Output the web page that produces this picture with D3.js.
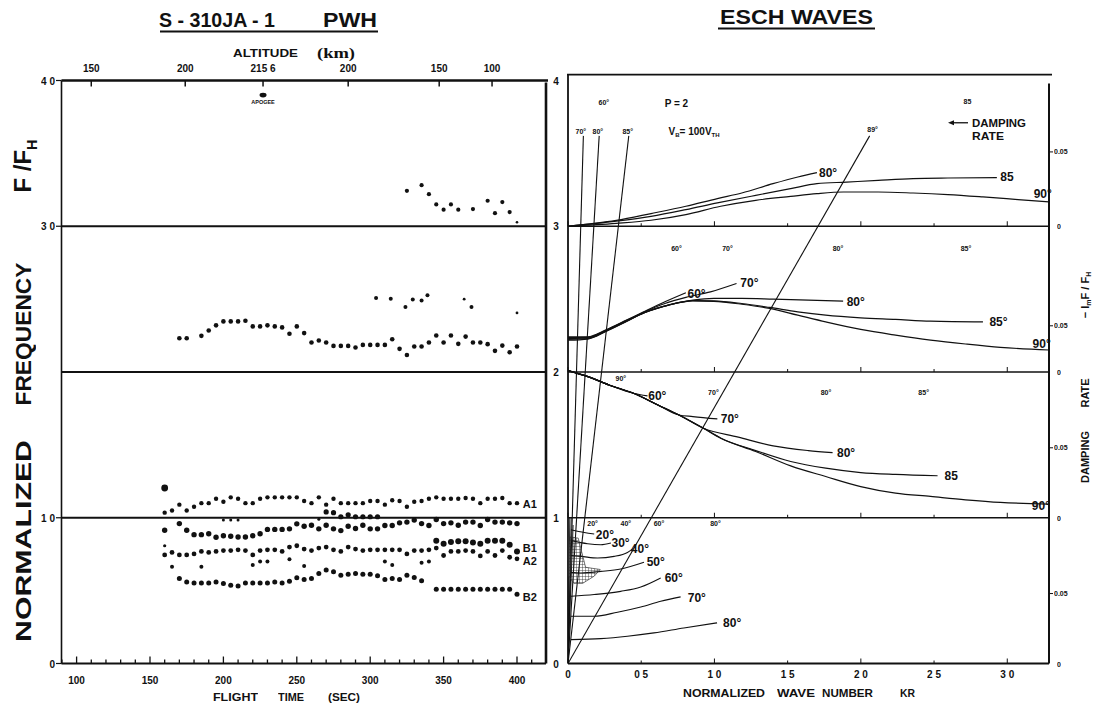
<!DOCTYPE html>
<html><head><meta charset="utf-8">
<script src="https://cdn.jsdelivr.net/npm/d3@7/dist/d3.min.js"></script>
<style>
body{margin:0;background:#fff}
svg{display:block}
text{font-family:"Liberation Sans",Arial,sans-serif;fill:#111;font-weight:bold;opacity:0.999}
</style></head>
<body><svg id="c" width="1094" height="705"></svg>
<script>
// ---------------- DATA ----------------
// left panel: flight time (s) vs normalized frequency F/FH
const timeTicks = [100,150,200,250,300,350,400];
const altTickTimes = [110,174,227,285,347,383];
const altTickLabels = ["150","200","215 6","200","150","100"];
const leftYTicks = [4,3,1,0];
const leftYLabels = ["4 0","3 0","1 0","0"];
const midYTicks = [4,3,2,1,0];
const apogee = [[227,3.9]];

const topDots = [[325,3.243],[335,3.282],[340,3.22],[345,3.15],[350,3.114],[355,3.15],[360,3.114],[370,3.118],[380,3.175],[385,3.09],[390,3.166],[395,3.097]];
const topSmall = [[400,3.027]];

const midDots = [[170,2.232],[175,2.232],[185,2.248],[190,2.285],[195,2.32],[200,2.347],[205,2.347],[210,2.347],[215,2.352],[220,2.313],[225,2.313],[230,2.32],[235,2.313],[240,2.306],[245,2.262],[250,2.313],[255,2.267],[260,2.202],[265,2.216],[270,2.202],[275,2.179],[280,2.179],[285,2.179],[290,2.168],[295,2.186],[300,2.186],[305,2.186],[310,2.186],[315,2.225],[320,2.159],[325,2.117],[330,2.175],[335,2.175],[340,2.202],[345,2.25],[350,2.202],[355,2.25],[360,2.193],[365,2.243],[370,2.202],[375,2.202],[380,2.191],[385,2.145],[390,2.181],[395,2.136],[400,2.175]];
const midUpper = [[304,2.508],[314,2.503],[324,2.446],[329,2.497],[335,2.49],[339,2.526],[369,2.446]];
const midSmall = [[364,2.5],[400,2.405]];

const seriesA1 = [[160,1.035],[165,1.05],[170,1.09],[175,1.05],[180,1.075],[185,1.10],[190,1.10],[195,1.13],[200,1.11],[205,1.14],[210,1.13],[215,1.10],[220,1.10],[225,1.13],[230,1.14],[235,1.14],[240,1.14],[245,1.14],[250,1.14],[255,1.115],[260,1.10],[265,1.14],[270,1.09],[275,1.13],[280,1.10],[285,1.10],[290,1.10],[295,1.10],[300,1.115],[305,1.115],[310,1.09],[315,1.12],[320,1.115],[325,1.075],[330,1.11],[335,1.115],[340,1.13],[345,1.14],[350,1.13],[355,1.13],[360,1.13],[365,1.135],[370,1.13],[375,1.10],[380,1.13],[385,1.13],[390,1.135],[395,1.10],[400,1.10]];
const firstBig = [[160,1.204]];
const nearOne = [[270,1.04],[275,1.035],[280,1.007],[285,1.02],[290,1.007],[295,1.007],[300,1.007],[305,1.007]];
const nearOneSmall = [[200,0.984],[205,0.984],[210,0.984],[265,0.99]];
const seriesC = [[160,0.914],[170,0.96],[175,0.914],[180,0.884],[185,0.884],[190,0.89],[195,0.866],[200,0.877],[205,0.873],[210,0.868],[215,0.868],[220,0.877],[225,0.89],[230,0.92],[235,0.92],[240,0.92],[245,0.924],[250,0.958],[255,0.942],[260,0.949],[265,0.924],[270,0.949],[275,0.924],[280,0.912],[285,0.942],[290,0.926],[295,0.949],[300,0.924],[305,0.924],[310,0.947],[315,0.947],[320,0.965],[325,0.97],[330,0.984],[335,0.96],[340,0.947],[345,0.988],[350,0.96],[355,0.965],[360,0.949],[365,0.97],[370,0.97],[375,0.947],[380,0.988],[385,0.97],[390,0.97],[395,0.965],[400,0.96]];
const seriesB1 = [[345,0.843],[350,0.822],[355,0.833],[360,0.838],[365,0.838],[370,0.831],[375,0.822],[380,0.843],[385,0.843],[390,0.843],[395,0.815],[400,0.769]];
const seriesA2 = [[160,0.745],[165,0.762],[170,0.745],[175,0.745],[180,0.752],[185,0.769],[190,0.762],[195,0.769],[200,0.775],[205,0.775],[210,0.78],[215,0.775],[220,0.745],[225,0.775],[230,0.78],[235,0.78],[240,0.769],[245,0.799],[250,0.808],[255,0.785],[260,0.775],[265,0.792],[270,0.799],[275,0.78],[280,0.769],[285,0.799],[290,0.785],[295,0.775],[300,0.78],[305,0.78],[310,0.78],[315,0.78],[320,0.78],[325,0.752],[330,0.775],[335,0.775],[340,0.78],[345,0.792],[350,0.741],[355,0.769],[360,0.769],[365,0.775],[370,0.769],[375,0.738],[380,0.769],[385,0.741],[390,0.775],[395,0.729],[400,0.718]];
const a2Extra = [[160,0.808]];
const a2Scatter = [[165,0.664],[185,0.664],[220,0.676],[225,0.699],[230,0.699],[245,0.715],[255,0.669],[310,0.699],[315,0.676],[335,0.692],[340,0.699]];
const seriesB2 = [[170,0.583],[175,0.56],[180,0.553],[185,0.553],[190,0.553],[195,0.56],[200,0.549],[205,0.537],[210,0.532],[215,0.553],[220,0.553],[225,0.553],[230,0.553],[235,0.56],[240,0.553],[245,0.565],[250,0.588],[255,0.576],[260,0.583],[265,0.618],[270,0.641],[275,0.63],[280,0.606],[285,0.613],[290,0.618],[295,0.613],[300,0.613],[305,0.602],[310,0.576],[315,0.583],[320,0.576],[325,0.606],[330,0.59],[335,0.567],[345,0.509],[350,0.509],[355,0.509],[360,0.509],[365,0.509],[370,0.509],[375,0.509],[380,0.509],[385,0.509],[390,0.509],[395,0.509],[400,0.475]];
const seriesLabels = [[404,1.094,"A1"],[404,0.79,"B1"],[404,0.705,"A2"],[404,0.457,"B2"]];

// right panel: normalized wave number KR vs F/FH (and damping rate)
const kTicks = [0,0.5,1,1.5,2,2.5,3];
const kLabels = ["0","0 5","1 0","1 5","2 0","2 5","3 0"];
const rateLabelLevels = [3.51,2.317,1.48,0.48];
const rateZeroLevels = [3,2,1,0];

const p1_80 = [[0,3.0],[0.33,3.04],[0.567,3.087],[0.805,3.137],[1.02,3.19],[1.187,3.228],[1.40,3.292],[1.57,3.338],[1.70,3.368]];
const p1_85 = [[0,3.0],[0.33,3.035],[0.567,3.068],[0.805,3.114],[1.02,3.16],[1.282,3.212],[1.521,3.258],[1.70,3.292],[1.903,3.303],[2.118,3.315],[2.357,3.327],[2.595,3.331],[2.929,3.333]];
const p1_90 = [[0,3.0],[0.33,3.02],[0.567,3.041],[0.805,3.08],[1.043,3.137],[1.282,3.178],[1.521,3.205],[1.70,3.224],[1.88,3.235],[2.118,3.235],[2.357,3.228],[2.595,3.217],[2.834,3.201],[3.073,3.183],[3.285,3.167]];

const p2_60 = [[0,2.242],[0.136,2.242],[0.256,2.288],[0.40,2.356],[0.517,2.413],[0.662,2.482],[0.805,2.544]];
const p2_70 = [[0,2.236],[0.136,2.238],[0.256,2.285],[0.40,2.354],[0.517,2.41],[0.662,2.47],[0.805,2.512],[0.973,2.55],[1.151,2.607]];
const p2_80 = [[0,2.23],[0.136,2.234],[0.256,2.282],[0.40,2.35],[0.517,2.405],[0.686,2.459],[0.853,2.493],[0.996,2.505],[1.187,2.505],[1.401,2.50],[1.641,2.493],[1.879,2.486]];
const p2_85 = [[0,2.224],[0.136,2.23],[0.256,2.279],[0.40,2.348],[0.517,2.405],[0.686,2.459],[0.853,2.49],[0.996,2.488],[1.187,2.47],[1.378,2.443],[1.569,2.413],[1.76,2.39],[1.999,2.372],[2.237,2.361],[2.476,2.349],[2.834,2.344]];
const p2_90 = [[0,2.218],[0.136,2.226],[0.256,2.276],[0.40,2.346],[0.517,2.405],[0.686,2.459],[0.853,2.488],[0.996,2.485],[1.187,2.465],[1.378,2.436],[1.569,2.39],[1.76,2.344],[1.999,2.292],[2.237,2.253],[2.476,2.219],[2.715,2.192],[2.953,2.169],[3.285,2.151]];

const p3_60 = [[0,2.01],[0.136,1.968],[0.28,1.911],[0.447,1.854],[0.543,1.836]];
const p3_70 = [[0,2.01],[0.136,1.968],[0.28,1.911],[0.447,1.854],[0.614,1.774],[0.758,1.705],[0.853,1.694],[1.02,1.678]];
const p3_80 = [[0,2.01],[0.136,1.968],[0.28,1.911],[0.447,1.854],[0.614,1.774],[0.758,1.705],[0.925,1.614],[1.163,1.553],[1.401,1.493],[1.641,1.461],[1.807,1.447]];
const p3_85 = [[0,2.01],[0.136,1.968],[0.28,1.911],[0.447,1.854],[0.614,1.774],[0.758,1.705],[0.925,1.614],[1.044,1.546],[1.282,1.461],[1.521,1.386],[1.76,1.34],[1.999,1.31],[2.237,1.297],[2.524,1.288]];
const p3_90 = [[0,2.01],[0.136,1.968],[0.28,1.911],[0.447,1.854],[0.614,1.774],[0.758,1.705],[0.925,1.614],[1.044,1.546],[1.282,1.455],[1.521,1.356],[1.76,1.283],[1.999,1.214],[2.237,1.169],[2.476,1.146],[2.715,1.123],[2.953,1.105],[3.285,1.094]];

const p4_20 = [[0.02,0.918],[0.111,0.899],[0.179,0.888]];
const p4_30 = [[0.02,0.845],[0.134,0.822],[0.224,0.815],[0.293,0.827]];
const p4_40 = [[0.02,0.74],[0.088,0.735],[0.202,0.724],[0.315,0.735],[0.406,0.762],[0.44,0.785]];
const p4_50 = [[0.02,0.625],[0.088,0.621],[0.224,0.632],[0.36,0.648],[0.519,0.694]];
const p4_60 = [[0.02,0.461],[0.179,0.473],[0.36,0.495],[0.497,0.525],[0.633,0.587]];
const p4_70 = [[0.02,0.324],[0.179,0.324],[0.338,0.352],[0.497,0.388],[0.633,0.427],[0.769,0.457]];
const p4_80 = [[0.02,0.164],[0.224,0.171],[0.406,0.187],[0.587,0.21],[0.791,0.244],[1.018,0.279]];

const disp70 = [[0,0],[0.105,3.62]];
const disp80 = [[0,0],[0.213,3.62]];
const disp85 = [[0,0],[0.415,3.62]];
const disp89 = [[0,0],[2.06,3.62]];
const dispLow = [[[0,0],[0.012,1.0]],[[0,0],[0.022,1.0]],[[0,0],[0.035,0.95]]];
const hatchShape = [[0.005,0.87],[0.07,0.86],[0.1,0.74],[0.12,0.66],[0.22,0.645],[0.18,0.6],[0.1,0.55],[0.04,0.55],[0.005,0.6]];

const boldLabels = [
 [1.714,3.365,"80°"],[2.952,3.338,"85"],[3.18,3.221,"90°"],
 [0.816,2.535,"60°"],[1.177,2.61,"70°"],[1.903,2.48,"80°"],[2.878,2.343,"85°"],[3.173,2.192,"90°"],
 [0.548,1.835,"60°"],[1.043,1.678,"70°"],[1.837,1.444,"80°"],[2.571,1.286,"85"],[3.168,1.08,"90°"],
 [0.19,0.882,"20°"],[0.297,0.825,"30°"],[0.429,0.784,"40°"],[0.537,0.698,"50°"],[0.66,0.585,"60°"],[0.818,0.449,"70°"],[1.059,0.278,"80°"]];
const smallLabels = [
 [0.245,3.846,"60°"],[0.088,3.647,"70°"],[0.204,3.647,"80°"],[0.408,3.647,"85°"],[2.08,3.667,"89°"],[2.728,3.859,"85"],
 [0.741,2.844,"60°"],[1.089,2.844,"70°"],[1.844,2.844,"80°"],[2.718,2.844,"85°"],
 [0.361,1.952,"90°"],[0.993,1.856,"70°"],[1.762,1.856,"80°"],[2.429,1.856,"85°"],
 [0.168,0.962,"20°"],[0.395,0.962,"40°"],[0.621,0.962,"60°"],[1.007,0.962,"80°"]];

// ---------------- DRAW ----------------
const svg = d3.select("#c");
const yv = d3.scaleLinear().domain([0,4]).range([663.5,80.5]);
const xt = d3.scaleLinear().domain([150,400]).range([150,517]);
const xk = d3.scaleLinear().domain([0,3.285]).range([568,1049]);
const T0 = xt.invert(61.5), T1 = xt.invert(546);

const g = svg.append("g");
function ln(x1,y1,x2,y2,w){g.append("line").attr("x1",x1).attr("y1",y1).attr("x2",x2).attr("y2",y2).attr("stroke","#111").attr("stroke-width",w);}
function txt(x,y,s,size,opts={}){const t=g.append("text").attr("x",x).attr("y",y).attr("font-size",size).text(s);
 if(opts.anchor)t.attr("text-anchor",opts.anchor); if(opts.len)t.attr("textLength",opts.len).attr("lengthAdjust","spacingAndGlyphs");
 if(opts.family)t.style("font-family",opts.family); if(opts.base)t.attr("dominant-baseline",opts.base); return t;}

// titles
txt(159,27,"S - 310JA - 1",21,{len:116});
txt(323,27,"PWH",21,{len:54});
ln(160,31.5,378,31.5,2.2);
txt(720,24,"ESCH WAVES",21,{len:153});
ln(718,28.5,875,28.5,2.2);

// ---- left panel frame
ln(xt(T0),yv(4),xt(T1)+2,yv(4),2.4);
[3,2,1].forEach(v=>ln(xt(T0),yv(v),xt(T1),yv(v),2));
ln(xt(T0),yv(0),xt(T1),yv(0),2);
ln(xt(T0),yv(4),xt(T0),yv(0),1.6);
ln(xt(T1),yv(4)+2,xt(T1),yv(0),2.6);

// altitude axis
txt(233,57,"ALTITUDE",11,{len:65});
txt(317,58,"(km)",14,{len:38,family:"Liberation Serif"});
altTickTimes.forEach((t,i)=>{ln(xt(t),yv(4),xt(t),yv(4)+6,1.5); txt(xt(t),72,altTickLabels[i],10,{anchor:"middle"});});
g.selectAll(".apo").data(apogee).join("ellipse").attr("cx",d=>xt(d[0])).attr("cy",d=>yv(d[1])).attr("rx",3.5).attr("ry",2.4).attr("fill","#111");
txt(xt(apogee[0][0]),yv(apogee[0][1])+9,"APOGEE",5.5,{anchor:"middle"});

// left y labels
leftYTicks.forEach((v,i)=>{txt(55,yv(v)+4,leftYLabels[i],10,{anchor:"end"}); ln(56,yv(v),xt(T0),yv(v),1.2);});

// flight time axis
d3.range(90,420,10).forEach(t=>{const major=t%50===0; ln(xt(t),yv(0),xt(t),yv(0)-(major?7:4),1.3);});
timeTicks.forEach(t=>txt(xt(t),684,String(t),10,{anchor:"middle"}));
txt(213,701,"FLIGHT",10,{len:45});
txt(278,701,"TIME",10,{len:26});
txt(328,701,"(SEC)",10,{len:32});

// rotated y label
function rot(x,y,s,size,len,sub){const t=g.append("text").attr("transform",`translate(${x},${y}) rotate(-90)`).attr("text-anchor","middle").attr("font-size",size);
 t.append("tspan").text(s); if(sub){t.append("tspan").attr("font-size",size*0.6).attr("dy",size*0.25).text(sub);} if(len)t.attr("textLength",len).attr("lengthAdjust","spacingAndGlyphs"); return t;}
rot(31,541,"NORMALIZED",22,202);
rot(31,334,"FREQUENCY",22,143);
rot(31,166,"F /F",24,null,"H");

// dots
function dots(data,r,xs){g.append("g").selectAll("circle").data(data).join("circle").attr("cx",d=>xs(d[0])).attr("cy",d=>yv(d[1])).attr("r",r).attr("fill","#111");}
dots(topDots,2.1,xt); dots(topSmall,1.3,xt);
dots(midDots,2.3,xt); dots(midUpper,2.0,xt); dots(midSmall,1.4,xt);
dots(seriesA1,2.2,xt); dots(firstBig,3.4,xt); dots(nearOne,2.6,xt); dots(nearOneSmall,1.5,xt);
dots(seriesC,2.7,xt); dots(seriesB1,3.0,xt); dots(seriesA2,2.4,xt); dots(a2Extra,1.6,xt);
dots(a2Scatter,2.0,xt); dots(seriesB2,2.5,xt);
seriesLabels.forEach(d=>txt(xt(d[0]),yv(d[1])+4,d[2],11));

// ---- right panel frame
ln(xk(0)-1,yv(4.04),xk(3.285)+3,yv(4.04),1.8);
[3,2,1,0].forEach(v=>ln(xk(0),yv(v),xk(3.285),yv(v),v===0?2:1.6));
ln(xk(0),yv(4.04),xk(0),yv(0),1.8);
ln(xk(3.285),yv(3.98),xk(3.285),yv(0),2);
midYTicks.forEach(v=>txt(556,yv(v)+4,String(v),10,{anchor:"middle"}));
[3,2,1,0].forEach(v=>{kTicks.forEach(k=>ln(xk(k),yv(v),xk(k),yv(v)-(k%1===0?5:3),1));});
kTicks.forEach((k,i)=>txt(xk(k),678,kLabels[i],10,{anchor:"middle"}));
txt(683,697,"NORMALIZED",11,{len:82});
txt(777,697,"WAVE",11,{len:38});
txt(822,697,"NUMBER",11,{len:51});
txt(900,697,"KR",11,{len:15});

// right axis (damping rate)
rateLabelLevels.forEach(v=>{ln(xk(3.285),yv(v),xk(3.285)+4,yv(v),1); txt(xk(3.285)+5,yv(v)+2.5,"0.05",7);});
rateZeroLevels.forEach(v=>txt(xk(3.285)+8,yv(v)+3,"0",7));
(function(){const t=g.append("text").attr("transform",`translate(1089,295) rotate(-90)`).attr("text-anchor","middle").attr("font-size",11);
 t.append("tspan").text("− I"); t.append("tspan").attr("font-size",7).attr("dy",2).text("m"); t.append("tspan").attr("dy",-2).text("F / F"); t.append("tspan").attr("font-size",7).attr("dy",2).text("H");})();
rot(1089,393,"RATE",11,null);
rot(1089,457,"DAMPING",11,null);

// curves
const defs = svg.append("defs");
defs.append("clipPath").attr("id","rc").append("rect").attr("x",xk(0)).attr("y",yv(4.04)).attr("width",xk(3.285)-xk(0)).attr("height",yv(0)-yv(4.04));
const pat = defs.append("pattern").attr("id","hatch").attr("patternUnits","userSpaceOnUse").attr("width",3).attr("height",3);
pat.append("path").attr("d","M0,0 L3,0 M0,0 L0,3").attr("stroke","#222").attr("stroke-width",0.8);
const cg = svg.append("g").attr("clip-path","url(#rc)");
const smooth = d3.line().x(d=>xk(d[0])).y(d=>yv(d[1])).curve(d3.curveMonotoneX);
const straight = d3.line().x(d=>xk(d[0])).y(d=>yv(d[1]));
function curve(data,w){cg.append("path").attr("d",smooth(data)).attr("fill","none").attr("stroke","#111").attr("stroke-width",w);}
function sline(data,w){cg.append("path").attr("d",straight(data)).attr("fill","none").attr("stroke","#111").attr("stroke-width",w);}
[p1_80,p1_85,p1_90,p2_60,p2_70,p2_80,p2_85,p2_90,p3_60,p3_70,p3_80,p3_85,p3_90].forEach(c=>curve(c,1.2));
[p4_20,p4_30,p4_40,p4_50,p4_60,p4_70,p4_80].forEach(c=>curve(c,1.1));
[disp70,disp80,disp85,disp89].forEach(c=>sline(c,1.1));
dispLow.forEach(c=>sline(c,0.9));
cg.append("path").attr("d",straight(hatchShape)+"Z").attr("fill","url(#hatch)").attr("stroke","#333").attr("stroke-width",0.7);

// labels
boldLabels.forEach(d=>txt(xk(d[0]),yv(d[1])+4,d[2],12));
smallLabels.forEach(d=>txt(xk(d[0]),yv(d[1])+2.5,d[2],7,{anchor:"middle"}));
txt(xk(0.66),yv(3.846)+4,"P = 2",10);
(function(){const t=g.append("text").attr("x",xk(0.687)).attr("y",yv(3.653)+4).attr("font-size",10);
 t.append("tspan").text("V"); t.append("tspan").attr("font-size",6).attr("dy",2).text("B"); t.append("tspan").attr("dy",-2).text("= 100V"); t.append("tspan").attr("font-size",6).attr("dy",2).text("TH");})();
ln(953,yv(3.71),968,yv(3.71),1.3);
g.append("path").attr("d",`M948,${yv(3.71)} l6,-2.5 l0,5 Z`).attr("fill","#111");
txt(972,yv(3.71)+4,"DAMPING",11,{len:54});
txt(972,yv(3.62)+4,"RATE",11,{len:32});
</script></body></html>
